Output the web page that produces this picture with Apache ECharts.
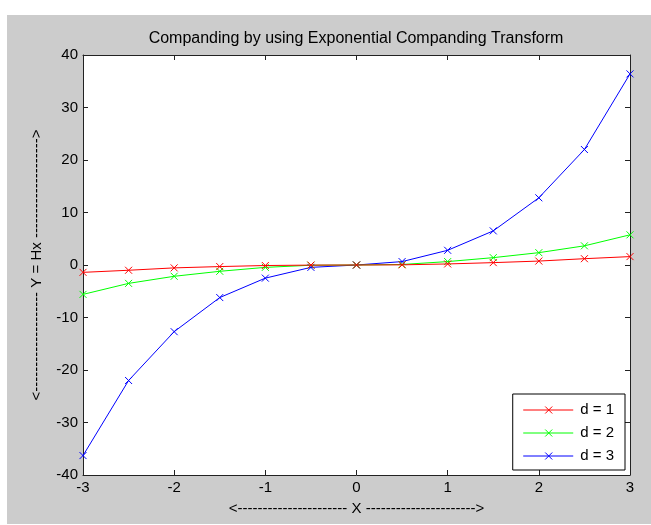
<!DOCTYPE html>
<html>
<head>
<meta charset="utf-8">
<script src="https://cdn.jsdelivr.net/npm/echarts@6/dist/echarts.min.js"></script>
<style>
html,body{margin:0;padding:0;background:#fff;}
#c{width:651px;height:525px;}
</style>
</head>
<body>
<div id="c"></div>
<script>
var titleText = 'Companding by using Exponential Companding Transform';
var xName = '<---------------------- X ---------------------->';
var yName = '<-------------------- Y = Hx -------------------->';
var xs = [-3, -2.5, -2, -1.5, -1, -0.5, 0, 0.5, 1, 1.5, 2, 2.5, 3];
var d1 = [-1.4, -1.0, -0.55, -0.3, -0.1, -0.02, 0, 0.03, 0.2, 0.45, 0.75, 1.2, 1.6];
var d2 = [-5.6, -3.5, -2.15, -1.2, -0.45, -0.05, 0, 0.1, 0.65, 1.4, 2.35, 3.65, 5.75];
var d3 = [-36.3, -22.0, -12.7, -6.2, -2.5, -0.45, 0, 0.65, 2.8, 6.5, 12.8, 22.0, 36.4];
var seriesNames = ['d = 1', 'd = 2', 'd = 3'];
var seriesColors = ['#ff0000', '#00ff00', '#0000ff'];
var xTicks = {min: -3, max: 3, interval: 1};
var yTicks = {min: -40, max: 40, interval: 10};

var allData = [d1, d2, d3];
var xMark = 'path://M0,0L10,10M10,0L0,10';
var legendIcon = 'path://M0,4L50,4M22,0.5L29,7.5M29,0.5L22,7.5';
var chart = echarts.init(document.getElementById('c'), null, {renderer: 'canvas'});
var font = 'Liberation Sans, Arial, sans-serif';

function axisCommon(extra) {
  return Object.assign({
    type: 'value',
    splitLine: {show: false},
    axisLine: {show: true, onZero: false, lineStyle: {color: '#222', width: 1}},
    axisTick: {show: true, inside: true, length: 5, lineStyle: {color: '#222'}},
    axisLabel: {color: '#000', fontFamily: font, fontSize: 15}
  }, extra);
}

var option = {
  backgroundColor: '#ffffff',
  animation: false,
  graphic: [{
    type: 'rect', z: -10, silent: true,
    shape: {x: 7, y: 15, width: 651, height: 509},
    style: {fill: '#cccccc'}
  }],
  title: {
    text: titleText, left: 356, top: 31, textAlign: 'center', padding: 0,
    textStyle: {fontFamily: font, fontSize: 16, fontWeight: 'normal', color: '#000'}
  },
  grid: {left: 83, right: 21, top: 55, bottom: 50, show: true, backgroundColor: '#ffffff', borderWidth: 0},
  legend: {
    orient: 'vertical', right: 26, top: 394,
    backgroundColor: '#ffffff', borderColor: '#000', borderWidth: 1, borderRadius: 0,
    padding: [8.5, 11, 6.5, 10], itemGap: 8, itemWidth: 50, itemHeight: 8,
    icon: legendIcon,
    textStyle: {fontFamily: font, fontSize: 15, color: '#000', padding: [0, 0, 0, 2]},
    data: seriesNames.map(function (n, i) {
      return {name: n, itemStyle: {color: seriesColors[i], borderColor: seriesColors[i], borderWidth: 1, opacity: 1}};
    })
  },
  xAxis: [
    axisCommon(Object.assign({position: 'bottom', name: xName, nameLocation: 'middle', nameGap: 26,
      nameTextStyle: {fontFamily: font, fontSize: 15, color: '#000'},
      axisLabel: {color: '#000', fontFamily: font, fontSize: 15, margin: 5}}, xTicks)),
    axisCommon(Object.assign({position: 'top', axisLabel: {show: false}}, xTicks))
  ],
  yAxis: [
    axisCommon(Object.assign({position: 'left', name: yName, nameLocation: 'middle', nameGap: 39,
      nameTextStyle: {fontFamily: font, fontSize: 15, color: '#000'},
      axisLabel: {color: '#000', fontFamily: font, fontSize: 15, margin: 5}}, yTicks)),
    axisCommon(Object.assign({position: 'right', axisLabel: {show: false}}, yTicks))
  ],
  series: seriesNames.map(function (n, i) {
    return {
      name: n, type: 'line',
      data: xs.map(function (x, j) { return [x, allData[i][j]]; }),
      symbol: xMark, symbolSize: 7, showAllSymbol: true,
      lineStyle: {color: seriesColors[i], width: 1},
      itemStyle: {color: seriesColors[i], borderColor: seriesColors[i], borderWidth: 1},
      clip: false, z: 3 - i
    };
  })
};
chart.setOption(option);
</script>
</body>
</html>
